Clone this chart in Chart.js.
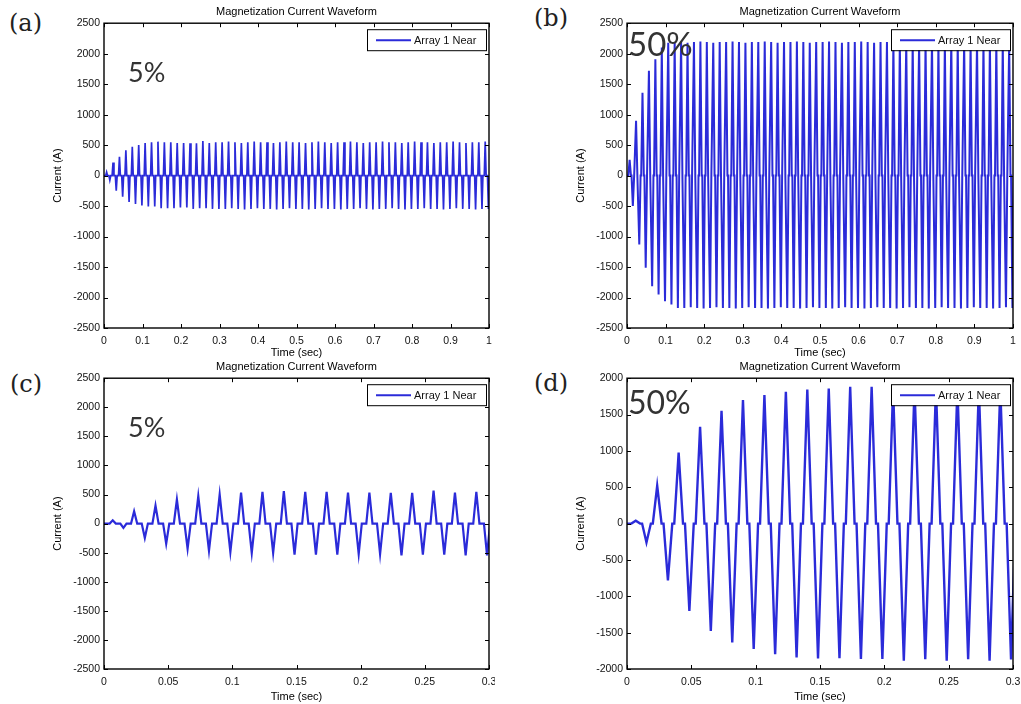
<!DOCTYPE html>
<html>
<head>
<meta charset="utf-8">
<script src="https://cdn.jsdelivr.net/npm/chart.js@4.4.1/dist/chart.umd.min.js"></script>
<style>
  body { margin: 0; background: #fff; width: 1021px; height: 704px; position: relative; overflow: hidden; }
  canvas { position: absolute; }
  .tag { position: absolute; font-family: 'DejaVu Serif', serif; font-size: 24px; line-height: 1; color: #222; }
  .pct { position: absolute; font-family: Lato, sans-serif; line-height: 1; color: #333; }
</style>
</head>
<body>
<canvas id="chartA" width="445" height="362" style="left:50px;top:0px"></canvas>
<canvas id="chartB" width="448" height="362" style="left:573px;top:0px"></canvas>
<canvas id="chartC" width="445" height="349" style="left:50px;top:355px"></canvas>
<canvas id="chartD" width="448" height="349" style="left:573px;top:355px"></canvas>

<div class="tag" style="left:9px;top:11px">(a)</div>
<div class="tag" style="left:534px;top:6px">(b)</div>
<div class="tag" style="left:10px;top:372px">(c)</div>
<div class="tag" style="left:534px;top:371px">(d)</div>
<div class="pct" style="left:128px;top:58px;font-size:27px">5%</div>
<div class="pct" style="left:628px;top:27px;font-size:33px">50%</div>
<div class="pct" style="left:128px;top:413px;font-size:27px">5%</div>
<div class="pct" style="left:628px;top:386px;font-size:32px">50%</div>

<script>
// one cycle of the 60 Hz supply
const period = 1 / 60;
// time of the first positive peak (s), negative peak follows half a cycle later
const firstPeak = 0.0068;

// 5% case, 1 s window: positive / negative peak of each cycle (A)
const aPos = [
  57, 213, 310, 414, 471, 500, 534, 546, 557, 546,
  546, 534, 534, 529, 529, 569, 534, 546, 546, 557,
  546, 534, 546, 557, 546, 546, 534, 546, 557, 546,
  546, 534, 546, 557, 546, 534, 546, 546, 557, 546,
  534, 546, 546, 557, 546, 546, 534, 546, 557, 546,
  546, 534, 546, 546, 557, 546, 534, 546, 546, 557
];
const aNeg = [
  -75, -247, -345, -431, -466, -489, -506, -506, -534, -534,
  -534, -523, -523, -546, -534, -534, -546, -546, -546, -534,
  -546, -557, -546, -534, -546, -546, -557, -546, -534, -546,
  -546, -557, -546, -534, -546, -546, -557, -546, -546, -534,
  -546, -557, -546, -546, -534, -546, -557, -546, -546, -534,
  -546, -546, -557, -546, -534, -546, -546, -557, -546, -546
];

// 50% case, 1 s window
const bPos = [
  260, 900, 1360, 1720, 1910, 2100, 2180, 2190, 2190, 2180,
  2190, 2200, 2190, 2180, 2190, 2190, 2200, 2190, 2180, 2190,
  2190, 2200, 2190, 2180, 2190, 2190, 2200, 2190, 2180, 2190,
  2190, 2200, 2190, 2180, 2190, 2190, 2200, 2190, 2180, 2190,
  2190, 2200, 2190, 2180, 2190, 2190, 2200, 2190, 2180, 2190,
  2190, 2200, 2190, 2180, 2190, 2190, 2200, 2190, 2180, 2190
];
const bNeg = [
  -500, -1130, -1510, -1815, -1950, -2060, -2115, -2170, -2170, -2160,
  -2170, -2180, -2170, -2160, -2170, -2170, -2180, -2170, -2160, -2170,
  -2170, -2180, -2170, -2160, -2170, -2170, -2180, -2170, -2160, -2170,
  -2170, -2180, -2170, -2160, -2170, -2170, -2180, -2170, -2160, -2170,
  -2170, -2180, -2170, -2160, -2170, -2170, -2180, -2170, -2160, -2170,
  -2170, -2180, -2170, -2160, -2170, -2170, -2180, -2170, -2160, -2170
];

// 5% case, first 0.3 s
const cPos = [57, 213, 310, 414, 471, 500, 534, 546, 557, 546, 546, 534, 534, 529, 529, 569, 534, 546];
const cNeg = [-75, -247, -345, -431, -466, -489, -506, -506, -534, -534, -534, -523, -523, -546, -534, -534, -546, -546];

// 50% case, first 0.3 s
const dPos = [40, 520, 977, 1333, 1552, 1699, 1767, 1813, 1845, 1858, 1881, 1881, 1860, 1870, 1875, 1870, 1875, 1870];
const dNeg = [-260, -780, -1200, -1475, -1635, -1726, -1795, -1840, -1854, -1850, -1863, -1863, -1886, -1865, -1886, -1865, -1886, -1870];

const seriesName = 'Array 1 Near';
const lineBlue = '#2b2bd9';
const axisFont = { family: "'Liberation Sans', Arial, sans-serif", size: 10.5 };
const labelFont = { family: "'Liberation Sans', Arial, sans-serif", size: 11 };

// each cycle: flat zero, peak, back to zero, then the negative peak
function buildWave(pos, neg, halfWidth) {
  const pts = [{ x: 0, y: 0 }];
  pos.forEach((p, k) => {
    const tp = firstPeak + k * period;
    const tn = tp + period / 2;
    pts.push({ x: tp - halfWidth, y: 0 }, { x: tp, y: p }, { x: tp + halfWidth, y: 0 });
    pts.push({ x: tn - halfWidth, y: 0 }, { x: tn, y: neg[k] }, { x: tn + halfWidth, y: 0 });
  });
  return pts;
}

// matlab style box, inward ticks on every side, legend inside top right
const matlabFrame = {
  id: 'matlabFrame',
  afterDatasetsDraw(chart) {
    const { ctx, chartArea: a, scales: { x, y } } = chart;
    ctx.save();
    ctx.strokeStyle = '#000';
    ctx.lineWidth = 1;
    ctx.beginPath();
    x.ticks.forEach(t => {
      const px = Math.round(x.getPixelForValue(t.value)) + 0.5;
      ctx.moveTo(px, a.bottom); ctx.lineTo(px, a.bottom - 4);
      ctx.moveTo(px, a.top); ctx.lineTo(px, a.top + 4);
    });
    y.ticks.forEach(t => {
      const py = Math.round(y.getPixelForValue(t.value)) + 0.5;
      ctx.moveTo(a.left, py); ctx.lineTo(a.left + 4, py);
      ctx.moveTo(a.right, py); ctx.lineTo(a.right - 4, py);
    });
    ctx.stroke();
    ctx.lineWidth = 1.4;
    ctx.strokeRect(a.left, a.top, a.right - a.left, a.bottom - a.top);

    // legend
    const w = 119, h = 21;
    const lx = a.right - 3 - w, ly = a.top + 6;
    ctx.fillStyle = '#fff';
    ctx.fillRect(lx, ly, w, h);
    ctx.lineWidth = 1;
    ctx.strokeRect(lx + 0.5, ly + 0.5, w, h);
    ctx.strokeStyle = lineBlue;
    ctx.lineWidth = 2;
    ctx.beginPath();
    ctx.moveTo(lx + 9, ly + h / 2 + 0.5);
    ctx.lineTo(lx + 44, ly + h / 2 + 0.5);
    ctx.stroke();
    ctx.fillStyle = '#111';
    ctx.font = "11px 'Liberation Sans', Arial, sans-serif";
    ctx.textBaseline = 'middle';
    ctx.fillText(chart.data.datasets[0].label, lx + 47, ly + h / 2 + 1);
    ctx.restore();
  }
};

function makePanel(id, points, o) {
  return new Chart(document.getElementById(id), {
    type: 'line',
    data: {
      datasets: [{
        label: seriesName,
        data: points,
        borderColor: lineBlue,
        borderWidth: o.lineWidth,
        pointRadius: 0,
        tension: 0,
        fill: false
      }]
    },
    options: {
      responsive: false,
      animation: false,
      layout: { padding: { left: 0, right: o.padRight, top: 0, bottom: 0 } },
      plugins: {
        legend: { display: false },
        tooltip: { enabled: false },
        title: {
          display: true,
          fullSize: false,
          text: 'Magnetization Current Waveform',
          color: '#000',
          font: { family: labelFont.family, size: 11, weight: 'normal' },
          padding: { top: 5, bottom: 5 }
        }
      },
      scales: {
        x: {
          type: 'linear',
          min: 0,
          max: o.xMax,
          grid: { display: false, drawTicks: false },
          border: { display: false },
          ticks: {
            stepSize: o.xStep,
            autoSkip: false,
            padding: 7,
            color: '#111',
            font: axisFont,
            callback: v => String(Math.round(v * 100) / 100)
          },
          title: { display: true, text: 'Time (sec)', color: '#000', font: labelFont, padding: { top: 0, bottom: o.xTitlePad } },
          afterFit: s => { s.height = o.xAxisH; s.paddingLeft = 0; s.paddingRight = 0; }
        },
        y: {
          min: o.yMin,
          max: o.yMax,
          grid: { display: false, drawTicks: false },
          border: { display: false },
          ticks: { stepSize: 500, padding: 4, color: '#111', font: axisFont, callback: v => String(v) },
          title: { display: true, text: 'Current (A)', color: '#000', font: labelFont, padding: { top: 1.5, bottom: 0 } },
          afterFit: s => { s.width = 54; s.paddingTop = 0; s.paddingBottom = 0; }
        }
      }
    },
    plugins: [matlabFrame]
  });
}

makePanel('chartA', buildWave(aPos, aNeg, 0.0024),
  { xMax: 1, xStep: 0.1, yMin: -2500, yMax: 2500, lineWidth: 1.7, padRight: 6, xAxisH: 34, xTitlePad: 2 });
makePanel('chartB', buildWave(bPos, bNeg, 0.0034),
  { xMax: 1, xStep: 0.1, yMin: -2500, yMax: 2500, lineWidth: 2, padRight: 8, xAxisH: 34, xTitlePad: 2 });
makePanel('chartC', buildWave(cPos, cNeg, 0.0024),
  { xMax: 0.3, xStep: 0.05, yMin: -2500, yMax: 2500, lineWidth: 2.2, padRight: 6, xAxisH: 35, xTitlePad: 0 });
makePanel('chartD', buildWave(dPos, dNeg, 0.0034),
  { xMax: 0.3, xStep: 0.05, yMin: -2000, yMax: 2000, lineWidth: 2.4, padRight: 8, xAxisH: 35, xTitlePad: 0 });
</script>
</body>
</html>
